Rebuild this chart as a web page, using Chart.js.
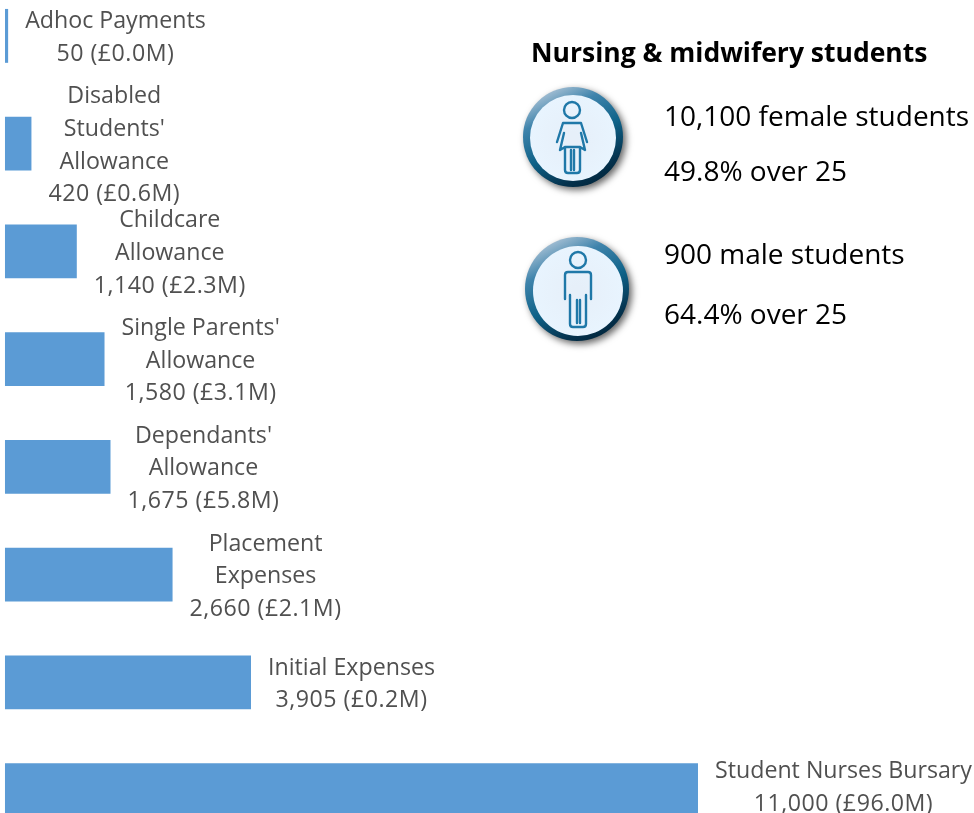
<!DOCTYPE html>
<html>
<head>
<meta charset="utf-8">
<style>
  html, body { margin: 0; padding: 0; background: #fff; }
  #wrap { position: relative; width: 974px; height: 813px; overflow: hidden; }
  canvas { position: absolute; left: 0; top: -18px; }
</style>
</head>
<body>
<div id="wrap"><canvas id="chart" width="974" height="862"></canvas></div>
<script src="https://cdn.jsdelivr.net/npm/chart.js@4/dist/chart.umd.min.js"></script>
<script>
const categories = [
  ['Adhoc Payments', '50 (£0.0M)'],
  ['Disabled', "Students'", 'Allowance', '420 (£0.6M)'],
  ['Childcare', 'Allowance', '1,140 (£2.3M)'],
  ["Single Parents'", 'Allowance', '1,580 (£3.1M)'],
  ["Dependants'", 'Allowance', '1,675 (£5.8M)'],
  ['Placement', 'Expenses', '2,660 (£2.1M)'],
  ['Initial Expenses', '3,905 (£0.2M)'],
  ['Student Nurses Bursary', '11,000 (£96.0M)']
];
const students = [50, 420, 1140, 1580, 1675, 2660, 3905, 11000];
const panelTitle = 'Nursing & midwifery students';
const femaleLines = ['10,100 female students', '49.8% over 25'];
const maleLines = ['900 male students', '64.4% over 25'];

const font = '"Open Sans", sans-serif';
const topShift = 18; // canvas hangs above the page so the last bar gets cut off

// the number lines run a bit wide in the original
function spacingFor(line) {
  return /^\d/.test(line) ? '0.5px' : '0px';
}

const barLabels = {
  id: 'barLabels',
  afterDatasetsDraw(chart) {
    const { ctx } = chart;
    const meta = chart.getDatasetMeta(0);
    ctx.save();
    ctx.font = '23.2px ' + font;
    ctx.fillStyle = '#505050';
    ctx.textAlign = 'center';
    ctx.textBaseline = 'middle';
    meta.data.forEach((bar, i) => {
      const lines = categories[i];
      const w = Math.max(...lines.map(l => {
        ctx.letterSpacing = spacingFor(l);
        return ctx.measureText(l).width;
      }));
      const cx = bar.x + 17 + w / 2;
      const lh = 32.6;
      // last label sits a little above its bar
      const cy = bar.y + (i === categories.length - 1 ? -2.5 : 2);
      lines.forEach((l, j) => {
        ctx.letterSpacing = spacingFor(l);
        ctx.fillText(l, cx, cy + (j - (lines.length - 1) / 2) * lh);
      });
    });
    ctx.restore();
  }
};

function badge(ctx, cx, cy, outer, ix, iy, inner) {
  ctx.save();
  const g = ctx.createLinearGradient(cx - outer * 0.5, cy - outer, cx + outer * 0.5, cy + outer);
  g.addColorStop(0, '#b4c8da');
  g.addColorStop(0.25, '#3f84ac');
  g.addColorStop(0.55, '#0f6288');
  g.addColorStop(0.85, '#04314c');
  g.addColorStop(1, '#00243a');
  ctx.shadowColor = 'rgba(0,0,0,0.6)';
  ctx.shadowBlur = 7;
  ctx.shadowOffsetX = 3;
  ctx.shadowOffsetY = 3;
  ctx.fillStyle = g;
  ctx.beginPath(); ctx.arc(cx, cy, outer, 0, Math.PI * 2); ctx.fill();
  ctx.restore();
  const f = ctx.createRadialGradient(ix, iy, 5, ix, iy, inner);
  f.addColorStop(0, '#e6eff9');
  f.addColorStop(1, '#e8f4fe');
  ctx.fillStyle = f;
  ctx.beginPath(); ctx.arc(ix, iy, inner, 0, Math.PI * 2); ctx.fill();
}

function female(ctx, x, y) {
  ctx.beginPath(); ctx.arc(x, y - 27, 8, 0, Math.PI * 2); ctx.stroke();
  ctx.beginPath();
  // left arm, shoulders, right arm
  ctx.moveTo(x - 15, y + 5);
  ctx.lineTo(x - 9, y - 14);
  ctx.lineTo(x + 9, y - 14);
  ctx.lineTo(x + 15, y + 5);
  // skirt sides
  ctx.moveTo(x - 8, y - 4);
  ctx.lineTo(x - 12, y + 13);
  ctx.lineTo(x - 7, y + 10);
  ctx.lineTo(x + 8, y + 10);
  ctx.lineTo(x + 13, y + 13);
  ctx.lineTo(x + 9, y - 4);
  // legs
  ctx.moveTo(x - 7, y + 10);
  ctx.lineTo(x - 7, y + 33);
  ctx.quadraticCurveTo(x - 7, y + 36, x - 4, y + 36);
  ctx.lineTo(x + 5, y + 36);
  ctx.quadraticCurveTo(x + 8, y + 36, x + 8, y + 33);
  ctx.lineTo(x + 8, y + 10);
  ctx.moveTo(x - 1, y + 13);
  ctx.lineTo(x - 1, y + 33);
  ctx.moveTo(x + 2, y + 13);
  ctx.lineTo(x + 2, y + 33);
  ctx.stroke();
}

function male(ctx, x, y) {
  ctx.beginPath(); ctx.arc(x, y - 30, 8, 0, Math.PI * 2); ctx.stroke();
  ctx.beginPath();
  ctx.moveTo(x - 13, y + 9);
  ctx.lineTo(x - 13, y - 15);
  ctx.quadraticCurveTo(x - 13, y - 18, x - 10, y - 18);
  ctx.lineTo(x + 10, y - 18);
  ctx.quadraticCurveTo(x + 13, y - 18, x + 13, y - 15);
  ctx.lineTo(x + 13, y + 9);
  ctx.moveTo(x - 8, y + 5);
  ctx.lineTo(x - 8, y + 34);
  ctx.quadraticCurveTo(x - 8, y + 37, x - 5, y + 37);
  ctx.lineTo(x + 5, y + 37);
  ctx.quadraticCurveTo(x + 8, y + 37, x + 8, y + 34);
  ctx.lineTo(x + 8, y + 5);
  ctx.moveTo(x - 1, y + 10);
  ctx.lineTo(x - 1, y + 33);
  ctx.moveTo(x + 2, y + 10);
  ctx.lineTo(x + 2, y + 33);
  ctx.stroke();
}

const panel = {
  id: 'panel',
  afterDraw(chart) {
    const { ctx } = chart;
    ctx.save();
    ctx.translate(0, topShift);
    ctx.textBaseline = 'middle';
    ctx.textAlign = 'left';
    ctx.fillStyle = '#000';
    ctx.font = 'bold 26.5px ' + font;
    ctx.fillText(panelTitle, 531, 54);
    ctx.font = '28px ' + font;
    ctx.fillText(femaleLines[0], 664, 118);
    ctx.fillText(femaleLines[1], 664, 173);
    ctx.fillText(maleLines[0], 664, 256);
    ctx.fillText(maleLines[1], 664, 316);

    badge(ctx, 573, 137, 50, 573, 138, 43);
    badge(ctx, 577, 289, 52, 578, 291, 45);
    ctx.strokeStyle = '#1f78a8';
    ctx.lineWidth = 2.4;
    ctx.lineJoin = 'round';
    ctx.lineCap = 'round';
    female(ctx, 572, 137);
    male(ctx, 578, 290);
    ctx.restore();
  }
};

new Chart(document.getElementById('chart'), {
  type: 'bar',
  data: {
    labels: categories.map(c => c.join(' ')),
    datasets: [{
      data: students,
      backgroundColor: '#5b9bd5',
      categoryPercentage: 0.5,
      barPercentage: 1
    }]
  },
  options: {
    indexAxis: 'y',
    responsive: false,
    animation: false,
    layout: { padding: 0 },
    plugins: { legend: { display: false }, tooltip: { enabled: false } },
    scales: {
      x: { display: false, min: -79, max: 15381 },
      y: { display: false }
    }
  },
  plugins: [barLabels, panel]
});
</script>
</body>
</html>
